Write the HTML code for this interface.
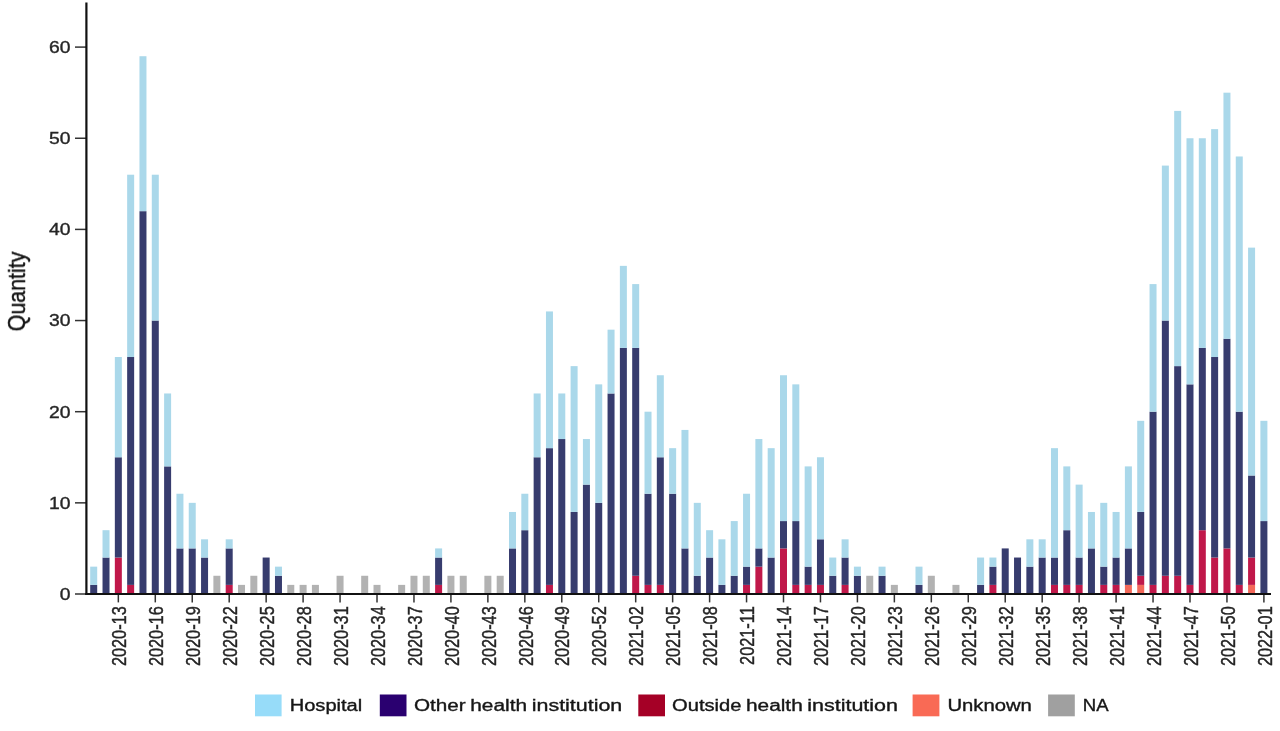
<!DOCTYPE html>
<html><head><meta charset="utf-8"><title>Chart</title>
<style>
html,body{margin:0;padding:0;background:#fff;}
body{width:1280px;height:731px;overflow:hidden;font-family:"Liberation Sans",sans-serif;}
svg{display:block;}
#all{filter:blur(0.4px);}
text{font-family:"Liberation Sans",sans-serif;fill:#262626;stroke:#262626;stroke-width:0.35px;}
.yl{font-size:16px;}
.xl{font-size:16.3px;}
.lg{font-size:16px;fill:#161616;stroke:#161616;}
.qt{font-size:21.4px;fill:#111;stroke:#111;}
</style></head><body>
<svg width="1280" height="731" viewBox="0 0 1280 731">
<rect width="1280" height="731" fill="#fff"/>
<g id="all">
<rect x="90.20" y="584.88" width="7.00" height="9.12" fill="#373c6e"/>
<rect x="90.20" y="566.65" width="7.00" height="18.23" fill="#aad8ea"/>
<rect x="102.52" y="557.54" width="7.00" height="36.46" fill="#373c6e"/>
<rect x="102.52" y="530.20" width="7.00" height="27.34" fill="#aad8ea"/>
<rect x="114.84" y="557.54" width="7.00" height="36.46" fill="#c0184a"/>
<rect x="114.84" y="457.27" width="7.00" height="100.26" fill="#373c6e"/>
<rect x="114.84" y="357.01" width="7.00" height="100.26" fill="#aad8ea"/>
<rect x="127.15" y="584.88" width="7.00" height="9.12" fill="#c0184a"/>
<rect x="127.15" y="357.01" width="7.00" height="227.88" fill="#373c6e"/>
<rect x="127.15" y="174.71" width="7.00" height="182.30" fill="#aad8ea"/>
<rect x="139.47" y="211.17" width="7.00" height="382.83" fill="#373c6e"/>
<rect x="139.47" y="56.22" width="7.00" height="154.95" fill="#aad8ea"/>
<rect x="151.79" y="320.55" width="7.00" height="273.45" fill="#373c6e"/>
<rect x="151.79" y="174.71" width="7.00" height="145.84" fill="#aad8ea"/>
<rect x="164.11" y="466.39" width="7.00" height="127.61" fill="#373c6e"/>
<rect x="164.11" y="393.47" width="7.00" height="72.92" fill="#aad8ea"/>
<rect x="176.43" y="548.42" width="7.00" height="45.58" fill="#373c6e"/>
<rect x="176.43" y="493.74" width="7.00" height="54.69" fill="#aad8ea"/>
<rect x="188.74" y="548.42" width="7.00" height="45.58" fill="#373c6e"/>
<rect x="188.74" y="502.85" width="7.00" height="45.57" fill="#aad8ea"/>
<rect x="201.06" y="557.54" width="7.00" height="36.46" fill="#373c6e"/>
<rect x="201.06" y="539.31" width="7.00" height="18.23" fill="#aad8ea"/>
<rect x="213.38" y="575.77" width="7.00" height="18.23" fill="#b2b2b2"/>
<rect x="225.70" y="584.88" width="7.00" height="9.12" fill="#c0184a"/>
<rect x="225.70" y="548.42" width="7.00" height="36.46" fill="#373c6e"/>
<rect x="225.70" y="539.31" width="7.00" height="9.12" fill="#aad8ea"/>
<rect x="238.01" y="584.88" width="7.00" height="9.12" fill="#b2b2b2"/>
<rect x="250.33" y="575.77" width="7.00" height="18.23" fill="#b2b2b2"/>
<rect x="262.65" y="557.54" width="7.00" height="36.46" fill="#373c6e"/>
<rect x="274.97" y="575.77" width="7.00" height="18.23" fill="#373c6e"/>
<rect x="274.97" y="566.65" width="7.00" height="9.12" fill="#aad8ea"/>
<rect x="287.29" y="584.88" width="7.00" height="9.12" fill="#b2b2b2"/>
<rect x="299.60" y="584.88" width="7.00" height="9.12" fill="#b2b2b2"/>
<rect x="311.92" y="584.88" width="7.00" height="9.12" fill="#b2b2b2"/>
<rect x="336.56" y="575.77" width="7.00" height="18.23" fill="#b2b2b2"/>
<rect x="361.19" y="575.77" width="7.00" height="18.23" fill="#b2b2b2"/>
<rect x="373.51" y="584.88" width="7.00" height="9.12" fill="#b2b2b2"/>
<rect x="398.15" y="584.88" width="7.00" height="9.12" fill="#b2b2b2"/>
<rect x="410.47" y="575.77" width="7.00" height="18.23" fill="#b2b2b2"/>
<rect x="422.78" y="575.77" width="7.00" height="18.23" fill="#b2b2b2"/>
<rect x="435.10" y="584.88" width="7.00" height="9.12" fill="#c0184a"/>
<rect x="435.10" y="557.54" width="7.00" height="27.35" fill="#373c6e"/>
<rect x="435.10" y="548.42" width="7.00" height="9.12" fill="#aad8ea"/>
<rect x="447.42" y="575.77" width="7.00" height="18.23" fill="#b2b2b2"/>
<rect x="459.74" y="575.77" width="7.00" height="18.23" fill="#b2b2b2"/>
<rect x="484.37" y="575.77" width="7.00" height="18.23" fill="#b2b2b2"/>
<rect x="496.69" y="575.77" width="7.00" height="18.23" fill="#b2b2b2"/>
<rect x="509.01" y="548.42" width="7.00" height="45.58" fill="#373c6e"/>
<rect x="509.01" y="511.97" width="7.00" height="36.46" fill="#aad8ea"/>
<rect x="521.33" y="530.20" width="7.00" height="63.80" fill="#373c6e"/>
<rect x="521.33" y="493.74" width="7.00" height="36.46" fill="#aad8ea"/>
<rect x="533.64" y="457.27" width="7.00" height="136.73" fill="#373c6e"/>
<rect x="533.64" y="393.47" width="7.00" height="63.80" fill="#aad8ea"/>
<rect x="545.96" y="584.88" width="7.00" height="9.12" fill="#c0184a"/>
<rect x="545.96" y="448.16" width="7.00" height="136.73" fill="#373c6e"/>
<rect x="545.96" y="311.44" width="7.00" height="136.72" fill="#aad8ea"/>
<rect x="558.28" y="439.04" width="7.00" height="154.96" fill="#373c6e"/>
<rect x="558.28" y="393.47" width="7.00" height="45.57" fill="#aad8ea"/>
<rect x="570.60" y="511.97" width="7.00" height="82.03" fill="#373c6e"/>
<rect x="570.60" y="366.12" width="7.00" height="145.84" fill="#aad8ea"/>
<rect x="582.92" y="484.62" width="7.00" height="109.38" fill="#373c6e"/>
<rect x="582.92" y="439.04" width="7.00" height="45.58" fill="#aad8ea"/>
<rect x="595.23" y="502.85" width="7.00" height="91.15" fill="#373c6e"/>
<rect x="595.23" y="384.36" width="7.00" height="118.50" fill="#aad8ea"/>
<rect x="607.55" y="393.47" width="7.00" height="200.53" fill="#373c6e"/>
<rect x="607.55" y="329.67" width="7.00" height="63.81" fill="#aad8ea"/>
<rect x="619.87" y="347.89" width="7.00" height="246.11" fill="#373c6e"/>
<rect x="619.87" y="265.86" width="7.00" height="82.03" fill="#aad8ea"/>
<rect x="632.19" y="575.77" width="7.00" height="18.23" fill="#c0184a"/>
<rect x="632.19" y="347.89" width="7.00" height="227.88" fill="#373c6e"/>
<rect x="632.19" y="284.09" width="7.00" height="63.81" fill="#aad8ea"/>
<rect x="644.51" y="584.88" width="7.00" height="9.12" fill="#c0184a"/>
<rect x="644.51" y="493.74" width="7.00" height="91.15" fill="#373c6e"/>
<rect x="644.51" y="411.70" width="7.00" height="82.04" fill="#aad8ea"/>
<rect x="656.82" y="584.88" width="7.00" height="9.12" fill="#c0184a"/>
<rect x="656.82" y="457.27" width="7.00" height="127.61" fill="#373c6e"/>
<rect x="656.82" y="375.24" width="7.00" height="82.03" fill="#aad8ea"/>
<rect x="669.14" y="493.74" width="7.00" height="100.26" fill="#373c6e"/>
<rect x="669.14" y="448.16" width="7.00" height="45.58" fill="#aad8ea"/>
<rect x="681.46" y="548.42" width="7.00" height="45.58" fill="#373c6e"/>
<rect x="681.46" y="429.93" width="7.00" height="118.49" fill="#aad8ea"/>
<rect x="693.78" y="575.77" width="7.00" height="18.23" fill="#373c6e"/>
<rect x="693.78" y="502.85" width="7.00" height="72.92" fill="#aad8ea"/>
<rect x="706.10" y="557.54" width="7.00" height="36.46" fill="#373c6e"/>
<rect x="706.10" y="530.20" width="7.00" height="27.34" fill="#aad8ea"/>
<rect x="718.41" y="584.88" width="7.00" height="9.12" fill="#373c6e"/>
<rect x="718.41" y="539.31" width="7.00" height="45.58" fill="#aad8ea"/>
<rect x="730.73" y="575.77" width="7.00" height="18.23" fill="#373c6e"/>
<rect x="730.73" y="521.08" width="7.00" height="54.69" fill="#aad8ea"/>
<rect x="743.05" y="584.88" width="7.00" height="9.12" fill="#c0184a"/>
<rect x="743.05" y="566.65" width="7.00" height="18.23" fill="#373c6e"/>
<rect x="743.05" y="493.74" width="7.00" height="72.92" fill="#aad8ea"/>
<rect x="755.37" y="566.65" width="7.00" height="27.35" fill="#c0184a"/>
<rect x="755.37" y="548.42" width="7.00" height="18.23" fill="#373c6e"/>
<rect x="755.37" y="439.04" width="7.00" height="109.38" fill="#aad8ea"/>
<rect x="767.68" y="557.54" width="7.00" height="36.46" fill="#373c6e"/>
<rect x="767.68" y="448.16" width="7.00" height="109.38" fill="#aad8ea"/>
<rect x="780.00" y="548.42" width="7.00" height="45.58" fill="#c0184a"/>
<rect x="780.00" y="521.08" width="7.00" height="27.34" fill="#373c6e"/>
<rect x="780.00" y="375.24" width="7.00" height="145.84" fill="#aad8ea"/>
<rect x="792.32" y="584.88" width="7.00" height="9.12" fill="#c0184a"/>
<rect x="792.32" y="521.08" width="7.00" height="63.80" fill="#373c6e"/>
<rect x="792.32" y="384.36" width="7.00" height="136.73" fill="#aad8ea"/>
<rect x="804.64" y="584.88" width="7.00" height="9.12" fill="#c0184a"/>
<rect x="804.64" y="566.65" width="7.00" height="18.23" fill="#373c6e"/>
<rect x="804.64" y="466.39" width="7.00" height="100.26" fill="#aad8ea"/>
<rect x="816.96" y="584.88" width="7.00" height="9.12" fill="#c0184a"/>
<rect x="816.96" y="539.31" width="7.00" height="45.58" fill="#373c6e"/>
<rect x="816.96" y="457.27" width="7.00" height="82.03" fill="#aad8ea"/>
<rect x="829.27" y="575.77" width="7.00" height="18.23" fill="#373c6e"/>
<rect x="829.27" y="557.54" width="7.00" height="18.23" fill="#aad8ea"/>
<rect x="841.59" y="584.88" width="7.00" height="9.12" fill="#c0184a"/>
<rect x="841.59" y="557.54" width="7.00" height="27.35" fill="#373c6e"/>
<rect x="841.59" y="539.31" width="7.00" height="18.23" fill="#aad8ea"/>
<rect x="853.91" y="575.77" width="7.00" height="18.23" fill="#373c6e"/>
<rect x="853.91" y="566.65" width="7.00" height="9.12" fill="#aad8ea"/>
<rect x="866.23" y="575.77" width="7.00" height="18.23" fill="#b2b2b2"/>
<rect x="878.55" y="575.77" width="7.00" height="18.23" fill="#373c6e"/>
<rect x="878.55" y="566.65" width="7.00" height="9.12" fill="#aad8ea"/>
<rect x="890.86" y="584.88" width="7.00" height="9.12" fill="#b2b2b2"/>
<rect x="915.50" y="584.88" width="7.00" height="9.12" fill="#373c6e"/>
<rect x="915.50" y="566.65" width="7.00" height="18.23" fill="#aad8ea"/>
<rect x="927.82" y="575.77" width="7.00" height="18.23" fill="#b2b2b2"/>
<rect x="952.45" y="584.88" width="7.00" height="9.12" fill="#b2b2b2"/>
<rect x="977.09" y="584.88" width="7.00" height="9.12" fill="#373c6e"/>
<rect x="977.09" y="557.54" width="7.00" height="27.35" fill="#aad8ea"/>
<rect x="989.41" y="584.88" width="7.00" height="9.12" fill="#c0184a"/>
<rect x="989.41" y="566.65" width="7.00" height="18.23" fill="#373c6e"/>
<rect x="989.41" y="557.54" width="7.00" height="9.12" fill="#aad8ea"/>
<rect x="1001.72" y="548.42" width="7.00" height="45.58" fill="#373c6e"/>
<rect x="1014.04" y="557.54" width="7.00" height="36.46" fill="#373c6e"/>
<rect x="1026.36" y="566.65" width="7.00" height="27.35" fill="#373c6e"/>
<rect x="1026.36" y="539.31" width="7.00" height="27.35" fill="#aad8ea"/>
<rect x="1038.68" y="557.54" width="7.00" height="36.46" fill="#373c6e"/>
<rect x="1038.68" y="539.31" width="7.00" height="18.23" fill="#aad8ea"/>
<rect x="1051.00" y="584.88" width="7.00" height="9.12" fill="#c0184a"/>
<rect x="1051.00" y="557.54" width="7.00" height="27.35" fill="#373c6e"/>
<rect x="1051.00" y="448.16" width="7.00" height="109.38" fill="#aad8ea"/>
<rect x="1063.31" y="584.88" width="7.00" height="9.12" fill="#c0184a"/>
<rect x="1063.31" y="530.20" width="7.00" height="54.69" fill="#373c6e"/>
<rect x="1063.31" y="466.39" width="7.00" height="63.81" fill="#aad8ea"/>
<rect x="1075.63" y="584.88" width="7.00" height="9.12" fill="#c0184a"/>
<rect x="1075.63" y="557.54" width="7.00" height="27.35" fill="#373c6e"/>
<rect x="1075.63" y="484.62" width="7.00" height="72.92" fill="#aad8ea"/>
<rect x="1087.95" y="548.42" width="7.00" height="45.58" fill="#373c6e"/>
<rect x="1087.95" y="511.97" width="7.00" height="36.46" fill="#aad8ea"/>
<rect x="1100.27" y="584.88" width="7.00" height="9.12" fill="#c0184a"/>
<rect x="1100.27" y="566.65" width="7.00" height="18.23" fill="#373c6e"/>
<rect x="1100.27" y="502.85" width="7.00" height="63.80" fill="#aad8ea"/>
<rect x="1112.59" y="584.88" width="7.00" height="9.12" fill="#c0184a"/>
<rect x="1112.59" y="557.54" width="7.00" height="27.35" fill="#373c6e"/>
<rect x="1112.59" y="511.97" width="7.00" height="45.57" fill="#aad8ea"/>
<rect x="1124.90" y="584.88" width="7.00" height="9.12" fill="#f4695a"/>
<rect x="1124.90" y="548.42" width="7.00" height="36.46" fill="#373c6e"/>
<rect x="1124.90" y="466.39" width="7.00" height="82.03" fill="#aad8ea"/>
<rect x="1137.22" y="584.88" width="7.00" height="9.12" fill="#f4695a"/>
<rect x="1137.22" y="575.77" width="7.00" height="9.12" fill="#c0184a"/>
<rect x="1137.22" y="511.97" width="7.00" height="63.80" fill="#373c6e"/>
<rect x="1137.22" y="420.81" width="7.00" height="91.15" fill="#aad8ea"/>
<rect x="1149.54" y="584.88" width="7.00" height="9.12" fill="#c0184a"/>
<rect x="1149.54" y="411.70" width="7.00" height="173.19" fill="#373c6e"/>
<rect x="1149.54" y="284.09" width="7.00" height="127.61" fill="#aad8ea"/>
<rect x="1161.86" y="575.77" width="7.00" height="18.23" fill="#c0184a"/>
<rect x="1161.86" y="320.55" width="7.00" height="255.22" fill="#373c6e"/>
<rect x="1161.86" y="165.59" width="7.00" height="154.96" fill="#aad8ea"/>
<rect x="1174.18" y="575.77" width="7.00" height="18.23" fill="#c0184a"/>
<rect x="1174.18" y="366.12" width="7.00" height="209.64" fill="#373c6e"/>
<rect x="1174.18" y="110.90" width="7.00" height="255.22" fill="#aad8ea"/>
<rect x="1186.49" y="584.88" width="7.00" height="9.12" fill="#c0184a"/>
<rect x="1186.49" y="384.36" width="7.00" height="200.53" fill="#373c6e"/>
<rect x="1186.49" y="138.25" width="7.00" height="246.11" fill="#aad8ea"/>
<rect x="1198.81" y="530.20" width="7.00" height="63.80" fill="#c0184a"/>
<rect x="1198.81" y="347.89" width="7.00" height="182.30" fill="#373c6e"/>
<rect x="1198.81" y="138.25" width="7.00" height="209.64" fill="#aad8ea"/>
<rect x="1211.13" y="557.54" width="7.00" height="36.46" fill="#c0184a"/>
<rect x="1211.13" y="357.01" width="7.00" height="200.53" fill="#373c6e"/>
<rect x="1211.13" y="129.13" width="7.00" height="227.88" fill="#aad8ea"/>
<rect x="1223.45" y="548.42" width="7.00" height="45.58" fill="#c0184a"/>
<rect x="1223.45" y="338.78" width="7.00" height="209.64" fill="#373c6e"/>
<rect x="1223.45" y="92.68" width="7.00" height="246.10" fill="#aad8ea"/>
<rect x="1235.76" y="584.88" width="7.00" height="9.12" fill="#c0184a"/>
<rect x="1235.76" y="411.70" width="7.00" height="173.19" fill="#373c6e"/>
<rect x="1235.76" y="156.48" width="7.00" height="255.22" fill="#aad8ea"/>
<rect x="1248.08" y="584.88" width="7.00" height="9.12" fill="#f4695a"/>
<rect x="1248.08" y="557.54" width="7.00" height="27.35" fill="#c0184a"/>
<rect x="1248.08" y="475.50" width="7.00" height="82.03" fill="#373c6e"/>
<rect x="1248.08" y="247.63" width="7.00" height="227.88" fill="#aad8ea"/>
<rect x="1260.40" y="521.08" width="7.00" height="72.92" fill="#373c6e"/>
<rect x="1260.40" y="420.81" width="7.00" height="100.27" fill="#aad8ea"/>
<line x1="75" x2="86.4" y1="594.00" y2="594.00" stroke="#333" stroke-width="1.5"/>
<text class="yl" transform="translate(70.5,599.80) scale(1.21,1)" text-anchor="end">0</text>
<line x1="75" x2="86.4" y1="502.85" y2="502.85" stroke="#333" stroke-width="1.5"/>
<text class="yl" transform="translate(70.5,508.65) scale(1.21,1)" text-anchor="end">10</text>
<line x1="75" x2="86.4" y1="411.70" y2="411.70" stroke="#333" stroke-width="1.5"/>
<text class="yl" transform="translate(70.5,417.50) scale(1.21,1)" text-anchor="end">20</text>
<line x1="75" x2="86.4" y1="320.55" y2="320.55" stroke="#333" stroke-width="1.5"/>
<text class="yl" transform="translate(70.5,326.35) scale(1.21,1)" text-anchor="end">30</text>
<line x1="75" x2="86.4" y1="229.40" y2="229.40" stroke="#333" stroke-width="1.5"/>
<text class="yl" transform="translate(70.5,235.20) scale(1.21,1)" text-anchor="end">40</text>
<line x1="75" x2="86.4" y1="138.25" y2="138.25" stroke="#333" stroke-width="1.5"/>
<text class="yl" transform="translate(70.5,144.05) scale(1.21,1)" text-anchor="end">50</text>
<line x1="75" x2="86.4" y1="47.10" y2="47.10" stroke="#333" stroke-width="1.5"/>
<text class="yl" transform="translate(70.5,52.90) scale(1.21,1)" text-anchor="end">60</text>
<line x1="118.34" x2="118.34" y1="594" y2="602.4" stroke="#333" stroke-width="1.5"/>
<text class="xl" transform="translate(126.04,606.3) rotate(-90) scale(1,1.28)" text-anchor="end">2020-13</text>
<line x1="155.29" x2="155.29" y1="594" y2="602.4" stroke="#333" stroke-width="1.5"/>
<text class="xl" transform="translate(162.99,606.3) rotate(-90) scale(1,1.28)" text-anchor="end">2020-16</text>
<line x1="192.24" x2="192.24" y1="594" y2="602.4" stroke="#333" stroke-width="1.5"/>
<text class="xl" transform="translate(199.94,606.3) rotate(-90) scale(1,1.28)" text-anchor="end">2020-19</text>
<line x1="229.20" x2="229.20" y1="594" y2="602.4" stroke="#333" stroke-width="1.5"/>
<text class="xl" transform="translate(236.90,606.3) rotate(-90) scale(1,1.28)" text-anchor="end">2020-22</text>
<line x1="266.15" x2="266.15" y1="594" y2="602.4" stroke="#333" stroke-width="1.5"/>
<text class="xl" transform="translate(273.85,606.3) rotate(-90) scale(1,1.28)" text-anchor="end">2020-25</text>
<line x1="303.10" x2="303.10" y1="594" y2="602.4" stroke="#333" stroke-width="1.5"/>
<text class="xl" transform="translate(310.80,606.3) rotate(-90) scale(1,1.28)" text-anchor="end">2020-28</text>
<line x1="340.06" x2="340.06" y1="594" y2="602.4" stroke="#333" stroke-width="1.5"/>
<text class="xl" transform="translate(347.76,606.3) rotate(-90) scale(1,1.28)" text-anchor="end">2020-31</text>
<line x1="377.01" x2="377.01" y1="594" y2="602.4" stroke="#333" stroke-width="1.5"/>
<text class="xl" transform="translate(384.71,606.3) rotate(-90) scale(1,1.28)" text-anchor="end">2020-34</text>
<line x1="413.97" x2="413.97" y1="594" y2="602.4" stroke="#333" stroke-width="1.5"/>
<text class="xl" transform="translate(421.67,606.3) rotate(-90) scale(1,1.28)" text-anchor="end">2020-37</text>
<line x1="450.92" x2="450.92" y1="594" y2="602.4" stroke="#333" stroke-width="1.5"/>
<text class="xl" transform="translate(458.62,606.3) rotate(-90) scale(1,1.28)" text-anchor="end">2020-40</text>
<line x1="487.87" x2="487.87" y1="594" y2="602.4" stroke="#333" stroke-width="1.5"/>
<text class="xl" transform="translate(495.57,606.3) rotate(-90) scale(1,1.28)" text-anchor="end">2020-43</text>
<line x1="524.83" x2="524.83" y1="594" y2="602.4" stroke="#333" stroke-width="1.5"/>
<text class="xl" transform="translate(532.53,606.3) rotate(-90) scale(1,1.28)" text-anchor="end">2020-46</text>
<line x1="561.78" x2="561.78" y1="594" y2="602.4" stroke="#333" stroke-width="1.5"/>
<text class="xl" transform="translate(569.48,606.3) rotate(-90) scale(1,1.28)" text-anchor="end">2020-49</text>
<line x1="598.73" x2="598.73" y1="594" y2="602.4" stroke="#333" stroke-width="1.5"/>
<text class="xl" transform="translate(606.43,606.3) rotate(-90) scale(1,1.28)" text-anchor="end">2020-52</text>
<line x1="635.69" x2="635.69" y1="594" y2="602.4" stroke="#333" stroke-width="1.5"/>
<text class="xl" transform="translate(643.39,606.3) rotate(-90) scale(1,1.28)" text-anchor="end">2021-02</text>
<line x1="672.64" x2="672.64" y1="594" y2="602.4" stroke="#333" stroke-width="1.5"/>
<text class="xl" transform="translate(680.34,606.3) rotate(-90) scale(1,1.28)" text-anchor="end">2021-05</text>
<line x1="709.60" x2="709.60" y1="594" y2="602.4" stroke="#333" stroke-width="1.5"/>
<text class="xl" transform="translate(717.30,606.3) rotate(-90) scale(1,1.28)" text-anchor="end">2021-08</text>
<line x1="746.55" x2="746.55" y1="594" y2="602.4" stroke="#333" stroke-width="1.5"/>
<text class="xl" transform="translate(754.25,606.3) rotate(-90) scale(1,1.28)" text-anchor="end">2021-11</text>
<line x1="783.50" x2="783.50" y1="594" y2="602.4" stroke="#333" stroke-width="1.5"/>
<text class="xl" transform="translate(791.20,606.3) rotate(-90) scale(1,1.28)" text-anchor="end">2021-14</text>
<line x1="820.46" x2="820.46" y1="594" y2="602.4" stroke="#333" stroke-width="1.5"/>
<text class="xl" transform="translate(828.16,606.3) rotate(-90) scale(1,1.28)" text-anchor="end">2021-17</text>
<line x1="857.41" x2="857.41" y1="594" y2="602.4" stroke="#333" stroke-width="1.5"/>
<text class="xl" transform="translate(865.11,606.3) rotate(-90) scale(1,1.28)" text-anchor="end">2021-20</text>
<line x1="894.36" x2="894.36" y1="594" y2="602.4" stroke="#333" stroke-width="1.5"/>
<text class="xl" transform="translate(902.06,606.3) rotate(-90) scale(1,1.28)" text-anchor="end">2021-23</text>
<line x1="931.32" x2="931.32" y1="594" y2="602.4" stroke="#333" stroke-width="1.5"/>
<text class="xl" transform="translate(939.02,606.3) rotate(-90) scale(1,1.28)" text-anchor="end">2021-26</text>
<line x1="968.27" x2="968.27" y1="594" y2="602.4" stroke="#333" stroke-width="1.5"/>
<text class="xl" transform="translate(975.97,606.3) rotate(-90) scale(1,1.28)" text-anchor="end">2021-29</text>
<line x1="1005.22" x2="1005.22" y1="594" y2="602.4" stroke="#333" stroke-width="1.5"/>
<text class="xl" transform="translate(1012.92,606.3) rotate(-90) scale(1,1.28)" text-anchor="end">2021-32</text>
<line x1="1042.18" x2="1042.18" y1="594" y2="602.4" stroke="#333" stroke-width="1.5"/>
<text class="xl" transform="translate(1049.88,606.3) rotate(-90) scale(1,1.28)" text-anchor="end">2021-35</text>
<line x1="1079.13" x2="1079.13" y1="594" y2="602.4" stroke="#333" stroke-width="1.5"/>
<text class="xl" transform="translate(1086.83,606.3) rotate(-90) scale(1,1.28)" text-anchor="end">2021-38</text>
<line x1="1116.09" x2="1116.09" y1="594" y2="602.4" stroke="#333" stroke-width="1.5"/>
<text class="xl" transform="translate(1123.79,606.3) rotate(-90) scale(1,1.28)" text-anchor="end">2021-41</text>
<line x1="1153.04" x2="1153.04" y1="594" y2="602.4" stroke="#333" stroke-width="1.5"/>
<text class="xl" transform="translate(1160.74,606.3) rotate(-90) scale(1,1.28)" text-anchor="end">2021-44</text>
<line x1="1189.99" x2="1189.99" y1="594" y2="602.4" stroke="#333" stroke-width="1.5"/>
<text class="xl" transform="translate(1197.69,606.3) rotate(-90) scale(1,1.28)" text-anchor="end">2021-47</text>
<line x1="1226.95" x2="1226.95" y1="594" y2="602.4" stroke="#333" stroke-width="1.5"/>
<text class="xl" transform="translate(1234.65,606.3) rotate(-90) scale(1,1.28)" text-anchor="end">2021-50</text>
<line x1="1263.90" x2="1263.90" y1="594" y2="602.4" stroke="#333" stroke-width="1.5"/>
<text class="xl" transform="translate(1271.60,606.3) rotate(-90) scale(1,1.28)" text-anchor="end">2022-01</text>
<line x1="86.4" x2="86.4" y1="2.5" y2="594.9" stroke="#111" stroke-width="2.2"/>
<line x1="85.3" x2="1271" y1="594" y2="594" stroke="#111" stroke-width="1.9"/>
<text class="qt" transform="translate(25.3,331.3) rotate(-90) scale(1,1.158)">Quantity</text>
<rect x="255" y="694.5" width="26.6" height="21.8" fill="#97dcf9"/>
<rect x="379.8" y="694.5" width="26.7" height="21.8" fill="#2a0070"/>
<rect x="638.3" y="694.5" width="26.7" height="21.8" fill="#a50026"/>
<rect x="912.6" y="694.5" width="26.8" height="21.8" fill="#f96a55"/>
<rect x="1048.1" y="694.5" width="26.7" height="21.8" fill="#a0a0a0"/>
<text class="lg" id="w0" x="289.70" y="710.8" textLength="72.55" lengthAdjust="spacingAndGlyphs">Hospital</text>
<text class="lg" id="w1" x="414.00" y="710.8" textLength="51.70" lengthAdjust="spacingAndGlyphs">Other</text>
<text class="lg" id="w2" x="470.25" y="710.8" textLength="56.75" lengthAdjust="spacingAndGlyphs">health</text>
<text class="lg" id="w3" x="531.75" y="710.8" textLength="90.50" lengthAdjust="spacingAndGlyphs">institution</text>
<text class="lg" id="w4" x="672.10" y="710.8" textLength="69.40" lengthAdjust="spacingAndGlyphs">Outside</text>
<text class="lg" id="w5" x="746.00" y="710.8" textLength="56.70" lengthAdjust="spacingAndGlyphs">health</text>
<text class="lg" id="w6" x="807.30" y="710.8" textLength="90.60" lengthAdjust="spacingAndGlyphs">institution</text>
<text class="lg" id="w7" x="947.40" y="710.8" textLength="84.50" lengthAdjust="spacingAndGlyphs">Unknown</text>
<text class="lg" id="w8" x="1082.75" y="710.8" textLength="25.80" lengthAdjust="spacingAndGlyphs">NA</text>
</g>
</svg>
</body></html>
